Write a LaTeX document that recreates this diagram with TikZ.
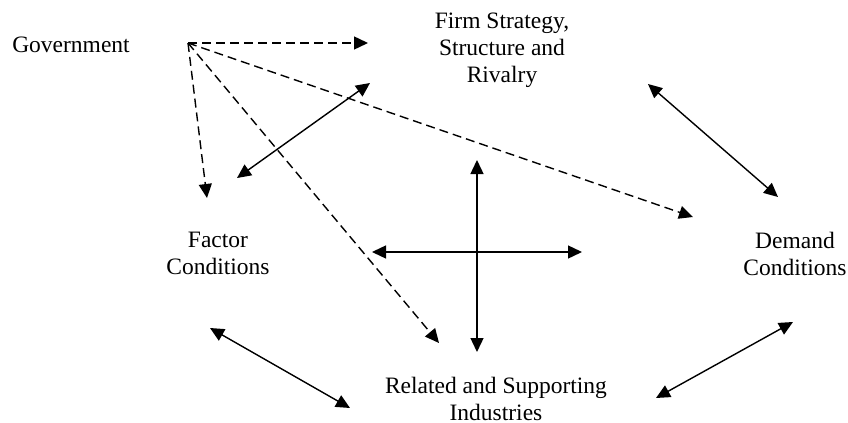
\documentclass[tikz,border=0pt]{standalone}
\usepackage{fontspec}
\setmainfont{Liberation Serif}
\usetikzlibrary{arrows.meta}

\begin{document}
\begin{tikzpicture}[x=0.5pt, y=-0.5pt]
	\tikzstyle{every node} = [align=center, inner sep=0pt, font=\fontsize{11.75}{13.5}\selectfont]
	\tikzstyle{link} = [line width=0.7pt, {Triangle[length=7pt,width=6.5pt]}-{Triangle[length=7pt,width=6.5pt]}]
	\tikzstyle{govlink} = [line width=0.7pt, dash pattern=on 4.5pt off 2.5pt, -{Triangle[length=7pt,width=6.5pt]}]
	\useasboundingbox (0,0) rectangle (848,423);
	\node (Government) at (71, 45) {Government};
	\node (Firm) at (502, 50) {Firm Strategy,\\Structure and\\Rivalry};
	\node (Factor) at (218, 253) {Factor\\Conditions};
	\node (Demand) at (795, 254) {Demand\\Conditions};
	\node (Related) at (496, 399) {Related and Supporting\\Industries};
	% arrow ends
	\coordinate (govout) at (188, 43);
	\coordinate (firmgov) at (368, 43);
	\coordinate (factorgov) at (207, 198);
	\coordinate (relatedgov) at (439, 343);
	\coordinate (demandgov) at (693, 217);
	\coordinate (factorfirm) at (237, 178);
	\coordinate (firmfactor) at (370, 83);
	\coordinate (firmdemand) at (648, 84);
	\coordinate (demandfirm) at (778, 197);
	\coordinate (crossW) at (372, 252);
	\coordinate (crossE) at (582, 252);
	\coordinate (crossN) at (477, 160);
	\coordinate (crossS) at (477, 352);
	\coordinate (factorrelated) at (210, 328);
	\coordinate (relatedfactor) at (350, 408);
	\coordinate (relateddemand) at (656, 398);
	\coordinate (demandrelated) at (793, 322);
	\draw [govlink] (govout)--(firmgov);
	\draw [govlink] (govout)--(factorgov);
	\draw [govlink] (govout)--(relatedgov);
	\draw [govlink] (govout)--(demandgov);
	\draw [link] (factorfirm)--(firmfactor);
	\draw [link] (firmdemand)--(demandfirm);
	\draw [link] (crossW)--(crossE);
	\draw [link] (crossN)--(crossS);
	\draw [link] (factorrelated)--(relatedfactor);
	\draw [link] (relateddemand)--(demandrelated);
\end{tikzpicture}
\end{document}
